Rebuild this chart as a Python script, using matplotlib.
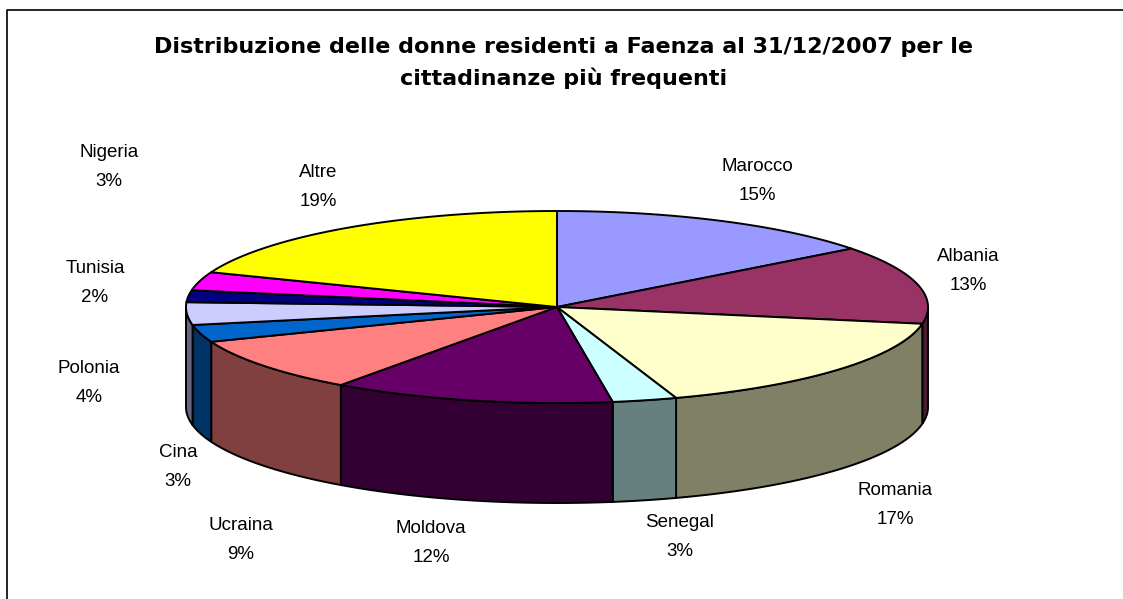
import numpy as np
import matplotlib.pyplot as plt
from matplotlib.patches import Polygon

plt.rcParams['font.family'] = ['Liberation Sans', 'DejaVu Sans']

# data (share of resident women by citizenship, %)
countries = ['Marocco', 'Albania', 'Romania', 'Senegal', 'Moldova', 'Ucraina',
             'Cina', 'Polonia', 'Tunisia', 'Nigeria', 'Altre']
shares = [14.6, 13.2, 17.0, 2.8, 12.3, 9.2, 2.9, 3.8, 2.0, 3.1, 19.1]
colors = ['#9999FF', '#993366', '#FFFFCC', '#CCFFFF', '#660066', '#FF8080',
          '#0066CC', '#CCCCFF', '#000080', '#FF00FF', '#FFFF00']

# label centres in pixels (layout only)
label_pos = [(757, 181), (968, 271), (895, 505), (680, 537), (431, 543),
             (241, 540), (178, 467), (89, 383), (95, 283), (109, 167), (318, 187)]

title = 'Distribuzione delle donne residenti a Faenza al 31/12/2007 per le\ncittadinanze più frequenti'

# geometry of the 3d pie (pixels)
cx, cy = 557, 307
a, b = 371, 96
depth = 100


def arc(t1, t2, n=80):
    t = np.radians(np.linspace(t1, t2, n))
    return cx + a * np.sin(t), cy - b * np.cos(t)


def darker(c):
    r, g, bb = [int(c[i:i + 2], 16) for i in (1, 3, 5)]
    return (r / 510, g / 510, bb / 510)


fig = plt.figure(figsize=(11.23, 5.99), dpi=100)
ax = fig.add_axes([0, 0, 1, 1])
ax.set_xlim(0, 1123)
ax.set_ylim(599, 0)
ax.axis('off')

# chart frame (runs off the right and bottom edges)
ax.plot([7, 7, 1130], [605, 10, 10], color='black', lw=1.2, zorder=1)

total = sum(shares)
angles = np.cumsum([0] + [s / total * 360 for s in shares])

# sides first (only the front half is visible)
for i, c in enumerate(colors):
    t1, t2 = max(angles[i], 90), min(angles[i + 1], 270)
    if t2 <= t1:
        continue
    x, y = arc(t1, t2)
    px = np.concatenate([x, x[::-1]])
    py = np.concatenate([y, (y + depth)[::-1]])
    ax.add_patch(Polygon(np.column_stack([px, py]), closed=True,
                         facecolor=darker(c), edgecolor='black', lw=1.4, zorder=2))

# top faces
for i, c in enumerate(colors):
    x, y = arc(angles[i], angles[i + 1])
    px = np.concatenate([[cx], x])
    py = np.concatenate([[cy], y])
    ax.add_patch(Polygon(np.column_stack([px, py]), closed=True,
                         facecolor=c, edgecolor='black', lw=1.4, zorder=3))

for name, s, (lx, ly) in zip(countries, shares, label_pos):
    ax.text(lx, ly, '{}\n{:.0f}%'.format(name, s / total * 100), ha='center', va='center',
            fontsize=13.5, linespacing=1.88, zorder=4)

ax.text(564, 63, title, ha='center', va='center', fontsize=16,
        fontweight='bold', linespacing=1.6, zorder=4, family=['DejaVu Sans'])

fig.savefig('out.png', dpi=100, facecolor='white')
